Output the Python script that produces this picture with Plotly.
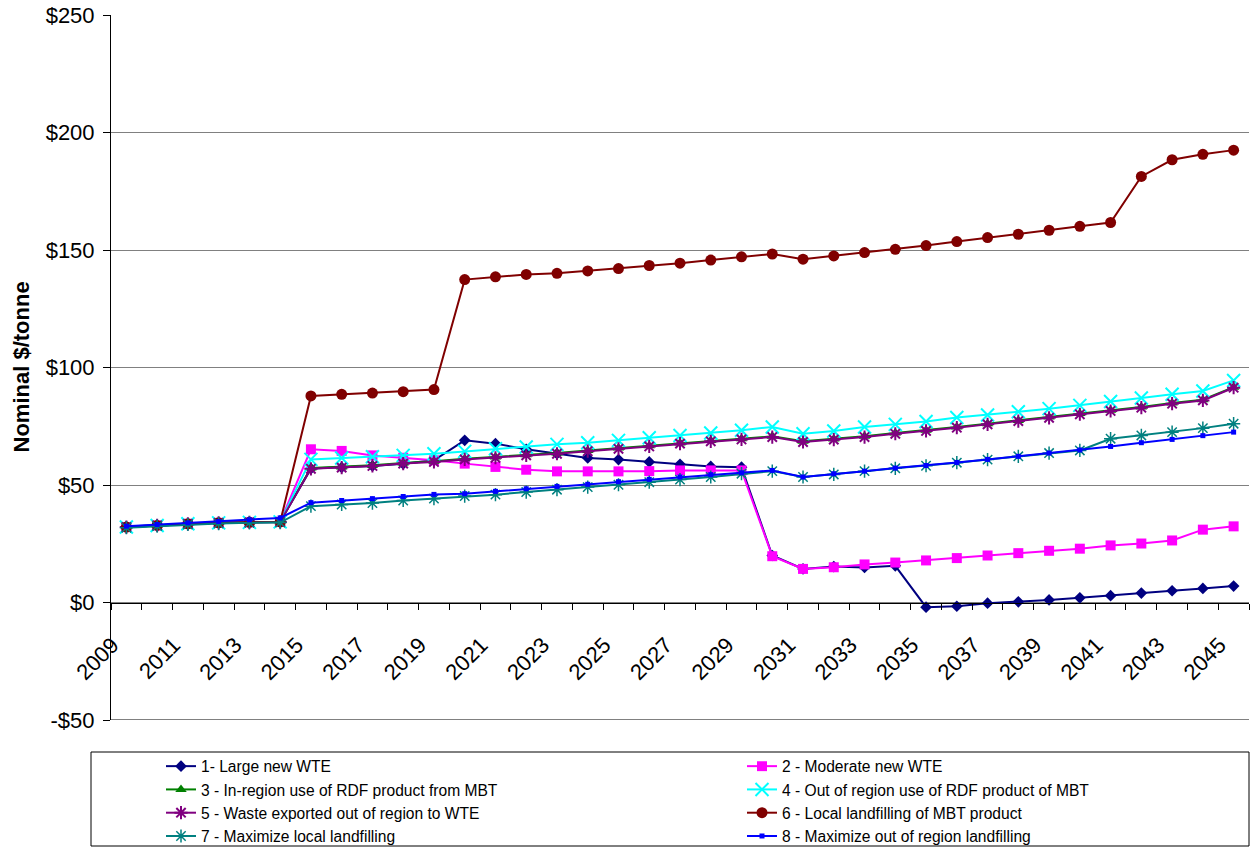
import plotly.graph_objects as go

# Categories: projection years
years = [2009, 2010, 2011, 2012, 2013, 2014, 2015, 2016, 2017, 2018,
         2019, 2020, 2021, 2022, 2023, 2024, 2025, 2026, 2027, 2028,
         2029, 2030, 2031, 2032, 2033, 2034, 2035, 2036, 2037, 2038,
         2039, 2040, 2041, 2042, 2043, 2044, 2045]

# Nominal cost per tonne for each scenario
large_wte = [32.3, 32.9, 33.5, 33.9, 34.2, 34.4,
             57.0, 57.5, 58.1, 59.0, 60.5,
             69.0, 67.6, 65.2, 63.3, 61.5, 60.8, 59.8, 58.8, 57.9, 57.6,
             20.0, 14.3, 15.3, 14.9, 15.6, -2.0, -1.6, -0.3, 0.3, 1.1,
             2.0, 2.9, 4.0, 5.0, 6.0, 7.0]
moderate_wte = [32.1, 32.8, 33.5, 33.9, 34.1, 34.3,
                65.2, 64.5, 62.6, 61.6, 60.5,
                59.1, 57.7, 56.5, 55.8, 55.8, 55.8, 55.9, 56.2, 56.2, 56.2,
                19.7, 14.3, 15.0, 16.2, 17.0, 17.9, 18.9, 20.0, 21.0, 22.0,
                22.9, 24.3, 25.1, 26.4, 31.0, 32.4]
in_region_rdf = [32.2, 32.9, 33.6, 34.0, 34.2, 34.4,
                 57.2, 57.7, 58.4, 59.4, 60.1,
                 61.2, 61.9, 62.9, 63.6, 64.7, 65.7, 66.7, 67.9, 68.9, 69.7,
                 70.7, 68.6, 69.6, 70.7, 72.1, 73.3, 74.7, 76.1, 77.5, 78.9,
                 80.4, 81.8, 83.2, 84.9, 86.3, 91.6]
out_region_rdf = [32.1, 32.8, 33.5, 33.9, 34.1, 34.3,
                  60.9, 61.5, 62.0, 62.6, 63.3,
                  64.3, 65.4, 66.2, 67.3, 68.0, 69.0, 70.1, 71.1, 72.1, 73.3,
                  74.7, 71.8, 73.0, 74.7, 75.8, 77.0, 78.7, 79.8, 81.2, 82.5,
                  83.9, 85.5, 87.0, 88.6, 90.0, 94.5]
exported_wte = [32.1, 32.8, 33.5, 33.9, 34.1, 34.3,
                56.9, 57.4, 58.1, 59.1, 59.8,
                60.9, 61.6, 62.6, 63.3, 64.4, 65.4, 66.4, 67.6, 68.6, 69.4,
                70.4, 68.3, 69.3, 70.4, 71.8, 73.0, 74.4, 75.8, 77.2, 78.6,
                80.1, 81.5, 82.9, 84.6, 86.0, 91.4]
local_mbt = [32.1, 32.8, 33.5, 33.9, 34.1, 34.3,
             87.9, 88.6, 89.1, 89.7, 90.6,
             137.4, 138.6, 139.6, 140.1, 141.1, 142.1, 143.4, 144.4, 145.7, 147.1,
             148.3, 146.1, 147.5, 148.9, 150.3, 151.9, 153.6, 155.3, 156.7, 158.4,
             160.1, 161.7, 181.3, 188.4, 190.7, 192.5]
max_local = [31.8, 32.5, 33.2, 33.6, 33.9, 34.0,
             41.0, 41.7, 42.3, 43.4, 44.2,
             45.3, 45.9, 47.0, 48.0, 49.1, 50.1, 51.2, 52.3, 53.4, 54.8,
             55.9, 53.4, 54.5, 55.9, 57.1, 58.2, 59.5, 60.8, 62.2, 63.6,
             64.7, 69.7, 71.1, 72.5, 74.2, 76.1]
max_out_region = [32.5, 33.2, 33.9, 34.5, 35.2, 36.0,
                  42.5, 43.4, 44.2, 45.1, 46.0,
                  46.3, 47.3, 48.4, 49.4, 50.3, 51.4, 52.4, 53.4, 54.4, 55.2,
                  56.2, 53.4, 54.8, 55.9, 57.2, 58.3, 59.6, 60.9, 62.2, 63.6,
                  64.9, 66.4, 68.0, 69.4, 71.0, 72.5]

y_ticks = [-50, 0, 50, 100, 150, 200, 250]
y_tick_text = ["-$50", "$0", "$50", "$100", "$150", "$200", "$250"]
x_tick_years = [2009, 2011, 2013, 2015, 2017, 2019, 2021, 2023, 2025, 2027,
                2029, 2031, 2033, 2035, 2037, 2039, 2041, 2043, 2045]

series = [
    ("1- Large new WTE", large_wte, "#000080", "diamond", 9, 0, "legend"),
    ("2 - Moderate new WTE", moderate_wte, "#FF00FF", "square", 10, 0, "legend2"),
    ("3 - In-region use of RDF product from MBT", in_region_rdf, "#008000", "triangle-up", 10, 0, "legend"),
    ("4 - Out of region use of RDF product of MBT", out_region_rdf, "#00FFFF", "x-thin-open", 13, 2, "legend2"),
    ("5 - Waste exported out of region to WTE", exported_wte, "#800080", "asterisk-open", 11, 2, "legend"),
    ("6 - Local landfilling of MBT product", local_mbt, "#800000", "circle", 11, 0, "legend2"),
    ("7 - Maximize local landfilling", max_local, "#008080", "asterisk-open", 11, 1.5, "legend"),
    ("8 - Maximize out of region landfilling", max_out_region, "#0000FF", "square", 5, 0, "legend2"),
]

fig = go.Figure()
for name, vals, color, symbol, size, lw, leg in series:
    fig.add_trace(go.Scatter(
        x=years, y=vals, name=name, mode="lines+markers",
        line=dict(color=color, width=2),
        marker=dict(symbol=symbol, size=size, color=color,
                    line=dict(color=color, width=lw)),
        legend=leg,
    ))

FONT = "Arial, Liberation Sans, sans-serif"
L, R, T, B = 111, 2, 15, 128
W, H = 1251, 848
pw, ph = W - L - R, H - T - B


def px_x(px):
    return (px - L) / pw


def px_y(py):
    return (H - B - py) / ph


legend_common = dict(
    orientation="v", xanchor="left", yanchor="top",
    bgcolor="rgba(0,0,0,0)", borderwidth=0,
    font=dict(family=FONT, size=15.6, color="black"),
    tracegroupgap=0,
)

fig.update_layout(
    width=W, height=H,
    margin=dict(l=L, r=R, t=T, b=B, pad=0, autoexpand=False),
    paper_bgcolor="white", plot_bgcolor="white",
    font=dict(family=FONT, color="black"),
    legend=dict(x=px_x(161), y=px_y(749.5), **legend_common),
    legend2=dict(x=px_x(742), y=px_y(749.5), **legend_common),
    xaxis=dict(
        range=[2008.5, 2045.5],
        tickmode="array", tickvals=x_tick_years,
        ticktext=[str(v) for v in x_tick_years],
        tickangle=-45, ticks="", tickfont=dict(size=22, family=FONT),
        ticklabelstandoff=20, ticklabelshift=-14,
        showgrid=False, zeroline=False,
        showline=True, linecolor="black", linewidth=1,
        anchor="free", position=50 / 300, automargin=False,
        minor=dict(tickmode="linear", tick0=2008.5, dtick=1, ticks="outside",
                   ticklen=6, tickcolor="black", tickwidth=1, showgrid=False),
    ),
    yaxis=dict(
        range=[-50, 250],
        tickmode="array", tickvals=y_ticks, ticktext=y_tick_text,
        tickfont=dict(size=22, family=FONT), ticklabelstandoff=4,
        ticks="outside", ticklen=7, tickcolor="black",
        showgrid=True, gridcolor="#808080", gridwidth=1,
        zeroline=False, showline=True, linecolor="black", linewidth=1,
        automargin=False,
    ),
    showlegend=True,
)

# Axis title
fig.add_annotation(
    x=px_x(21), y=0.5, xref="paper", yref="paper",
    text="<b>Nominal $/tonne</b>", textangle=-90, showarrow=False,
    font=dict(size=22, family=FONT, color="black"),
    xanchor="center", yanchor="middle",
)

# Bottom border of the plot area and the legend frame
fig.add_shape(type="line", xref="paper", yref="y", x0=0, x1=1, y0=-50, y1=-50,
              line=dict(color="black", width=1))
fig.add_shape(type="rect", xref="paper", yref="paper",
              x0=px_x(91), x1=px_x(1249), y0=px_y(846), y1=px_y(752),
              line=dict(color="black", width=1), fillcolor="rgba(0,0,0,0)")

fig.write_html("out.html")
